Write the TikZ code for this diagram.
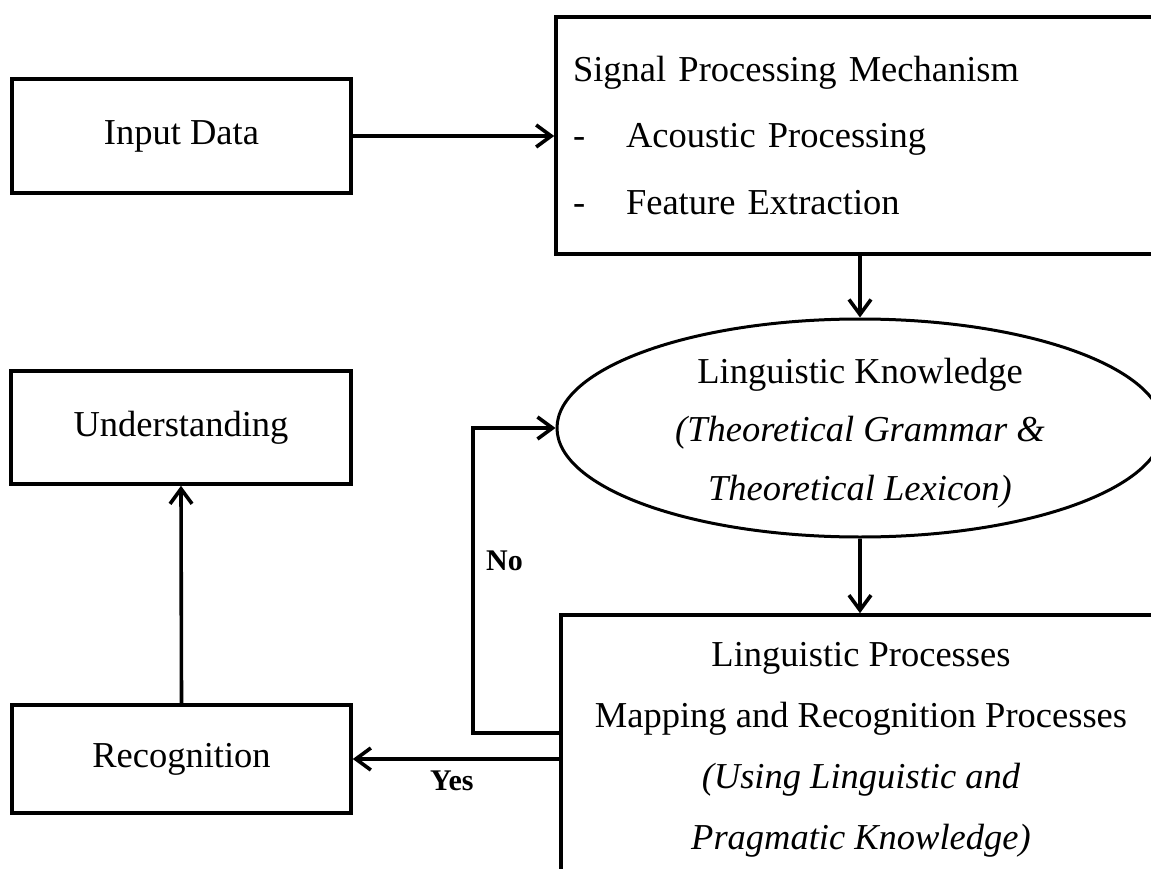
\documentclass[tikz,border=0pt]{standalone}
\usepackage{fontspec}
\setmainfont{Liberation Serif}
\usetikzlibrary{arrows.meta,shapes.geometric,calc}
\begin{document}
\begin{tikzpicture}[x=1pt,y=-1pt,
  box/.style={draw, line width=3.6pt, rectangle, inner sep=0pt, font=\fontsize{36.5}{43}\selectfont},
  oval/.style={draw, ellipse, line width=3pt, inner sep=0pt, align=center},
  arr/.style={line width=3.6pt, -{Straight Barb[length=15pt,width=22pt]}},
  lbl/.style={font=\bfseries\fontsize{30}{34}\selectfont, anchor=base west, inner sep=0pt}]
\useasboundingbox (0,0) rectangle (1151,869);
\fill[white] (0,0) rectangle (1151,869);
\clip (0,0) rectangle (1151,869);
\node[box, minimum width=339pt, minimum height=114pt] (in) at (181.5,136) {Input Data};
\node[box, minimum width=605pt, minimum height=237pt, text width=571pt, inner xsep=17pt,
  align=left, font=\fontsize{36.5}{66.5}\selectfont] (sig) at (858.5,135.5)
  {Signal Processing Mechanism\\\makebox[53pt][l]{-}Acoustic Processing\\\makebox[53pt][l]{-}Feature Extraction};
\node[oval, minimum width=606pt, minimum height=218pt, inner ysep=-8pt,
  font=\fontsize{36.5}{58.5}\selectfont] (lk) at (860,428)
  {\rule{0pt}{35pt}Linguistic Knowledge\\\textit{(Theoretical Grammar \&}\\\textit{Theoretical Lexicon)}};
\node[box, minimum width=600pt, minimum height=270pt, align=center, font=\fontsize{36.5}{61}\selectfont] (lp) at (861,750)
  {Linguistic Processes\\Mapping and Recognition Processes\\\textit{(Using Linguistic and}\\\textit{Pragmatic Knowledge)}};
\node[box, minimum width=340pt, minimum height=113pt] (und) at (181,427.5) {Understanding};
\node[box, minimum width=339pt, minimum height=108pt] (rec) at (181.5,759) {Recognition};
\coordinate (nomid) at (473,733);
\draw[arr] (in.east) -- (in.east -| sig.west);
\draw[arr] (lk.north |- sig.south) -- (lk.north);
\draw[arr] (lk.south) -- (lk.south |- lp.north);
\draw[arr] (lp.west |- nomid) -- (nomid) |- (lk.west);
\draw[arr] (lp.west |- rec.east) -- (rec.east);
\draw[arr] (rec.north) -- (und.south);
\node[lbl] (no) at (486,570) {No};
\node[lbl] (yes) at (430,790) {Yes};
\end{tikzpicture}
\end{document}
